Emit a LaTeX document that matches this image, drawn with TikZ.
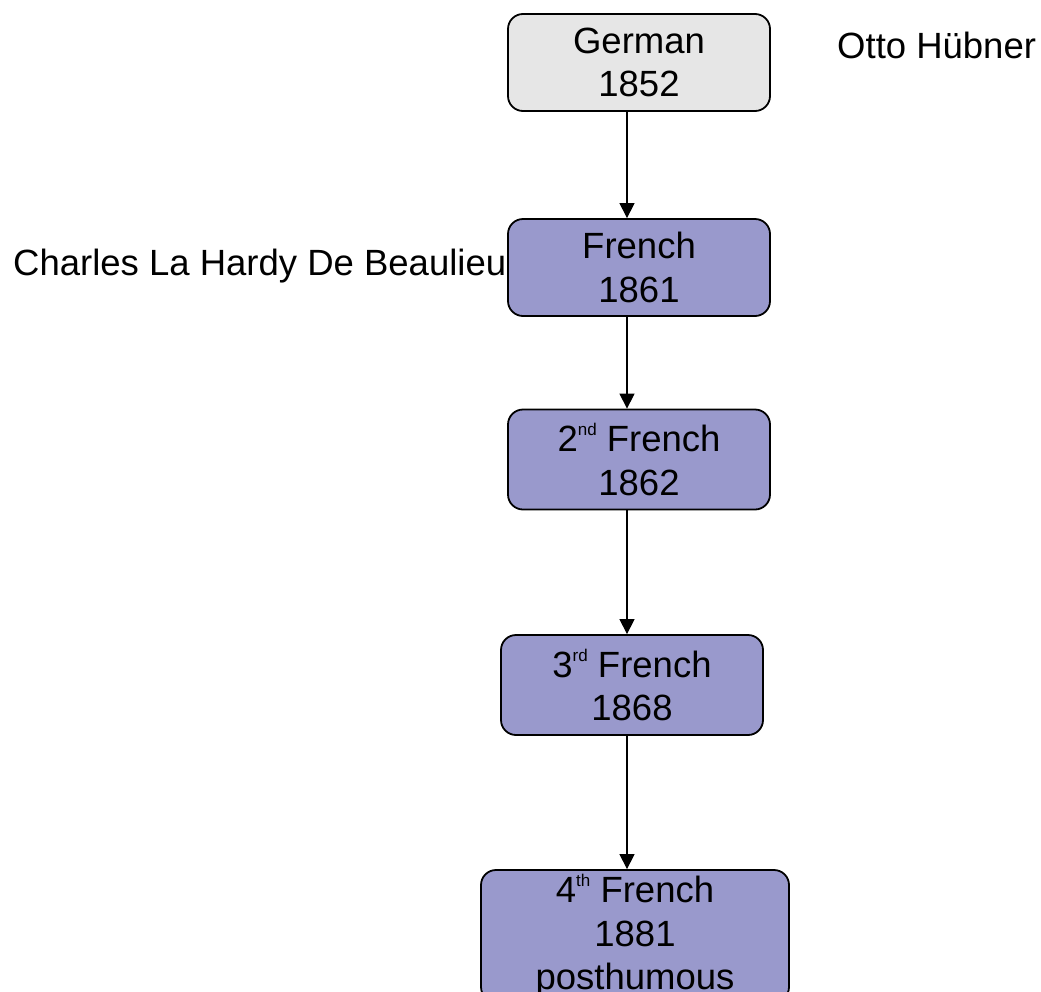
\documentclass[tikz,border=0pt]{standalone}
\usepackage{fontspec}
\setmainfont{Liberation Sans}
\usetikzlibrary{arrows.meta}
\definecolor{boxgray}{HTML}{E6E6E6}
\definecolor{boxpurple}{HTML}{9999CC}
% small raised ordinal suffix
\newcommand\ordsup[1]{\raisebox{16pt}{\fontsize{17}{18}\selectfont #1}}
\tikzset{
  stage/.style={draw=black, line width=1.8pt, rounded corners=15pt, fill=boxpurple,
    align=center, inner sep=0pt, font=\fontsize{36.5}{43.5}\selectfont},
  label/.style={inner sep=0pt, font=\fontsize{36.5}{43.5}\selectfont},
  link/.style={line width=1.2pt, -{Triangle[width=15pt,length=15pt]}}
}
\begin{document}
\begin{tikzpicture}[x=1pt, y=-1pt]
  \useasboundingbox (0,0) rectangle (1041,991);
  \node[stage, fill=boxgray, minimum width=262pt, minimum height=97pt] (german) at (639,62.5) {German\\1852};
  \node[stage, minimum width=262pt, minimum height=97pt] (fr1) at (639,267.5) {French\\1861};
  \node[stage, minimum width=262pt, minimum height=100pt] (fr2) at (639,459.5) {2\ordsup{nd} French\\1862};
  \node[stage, minimum width=262pt, minimum height=100pt] (fr3) at (632,685) {3\ordsup{rd} French\\1868};
  \node[stage, minimum width=308pt, minimum height=132pt] (fr4) at (635,936) {4\ordsup{th} French\\1881\\posthumous};
  \node[label, anchor=base west] (otto) at (837,58) {Otto Hübner};
  \node[label, anchor=base west] (charles) at (13,275) {Charles La Hardy De Beaulieu};
  \coordinate (ax) at (627,0);
  \draw[link] (german.south -| ax) -- (fr1.north -| ax);
  \draw[link] (fr1.south -| ax) -- (fr2.north -| ax);
  \draw[link] (fr2.south -| ax) -- (fr3.north -| ax);
  \draw[link] (fr3.south -| ax) -- (fr4.north -| ax);
\end{tikzpicture}
\end{document}
